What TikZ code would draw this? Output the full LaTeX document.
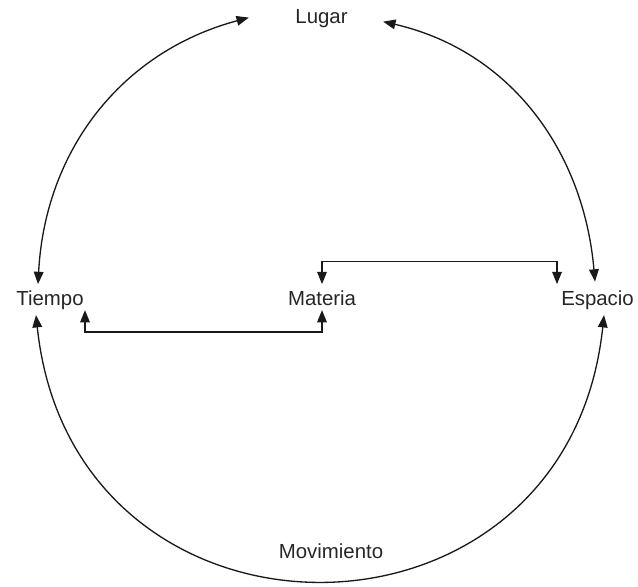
\documentclass[tikz,border=0pt]{standalone}
\usepackage{fontspec}
\setmainfont{Liberation Sans}
\usetikzlibrary{arrows.meta}

\begin{document}
\begin{tikzpicture}[x=0.02cm, y=0.02cm, >={Triangle[length=7pt,width=5.5pt]},
    concept/.style={font=\fontsize{11.6}{14}\selectfont, text=black!85, text height=8.7pt, text depth=2.55pt, inner sep=3pt},
    link/.style={<->, line width=0.75pt, draw=black!90}]
        \useasboundingbox (0,0) rectangle (638,-586);

        \node (lugar) [concept] at (321.5,-17.6) {Lugar};
        \node (tiempo) [concept] at (50,-299.6) {Tiempo};
        \node (materia) [concept] at (322,-299.6) {Materia};
        \node (espacio) [concept] at (597.5,-299.6) {Espacio};
        \node (movimiento) [concept] at (331,-552.6) {Movimiento};

        \draw[link] ([xshift=-0.24cm]tiempo.north) to[out=87, in=195] ([xshift=-0.82cm]lugar.west);
        \draw[link] ([xshift=0.6cm,yshift=-0.08cm]lugar.east) to[out=-13, in=95] ([xshift=-0.05cm,yshift=0.05cm]espacio.north);
        \draw[link] ([xshift=-0.28cm]tiempo.south) to[out=-84, in=-96, looseness=1.6] ([xshift=0.13cm]espacio.south);

        \draw[link] (materia.north) -- ++(0,0.45cm) -| ([xshift=-0.81cm]espacio.north);
        \draw[link] ([yshift=0.1cm]materia.south) -- ++(0,-0.44cm) -| ([xshift=0.7cm,yshift=0.1cm]tiempo.south);
      \end{tikzpicture}
\end{document}
